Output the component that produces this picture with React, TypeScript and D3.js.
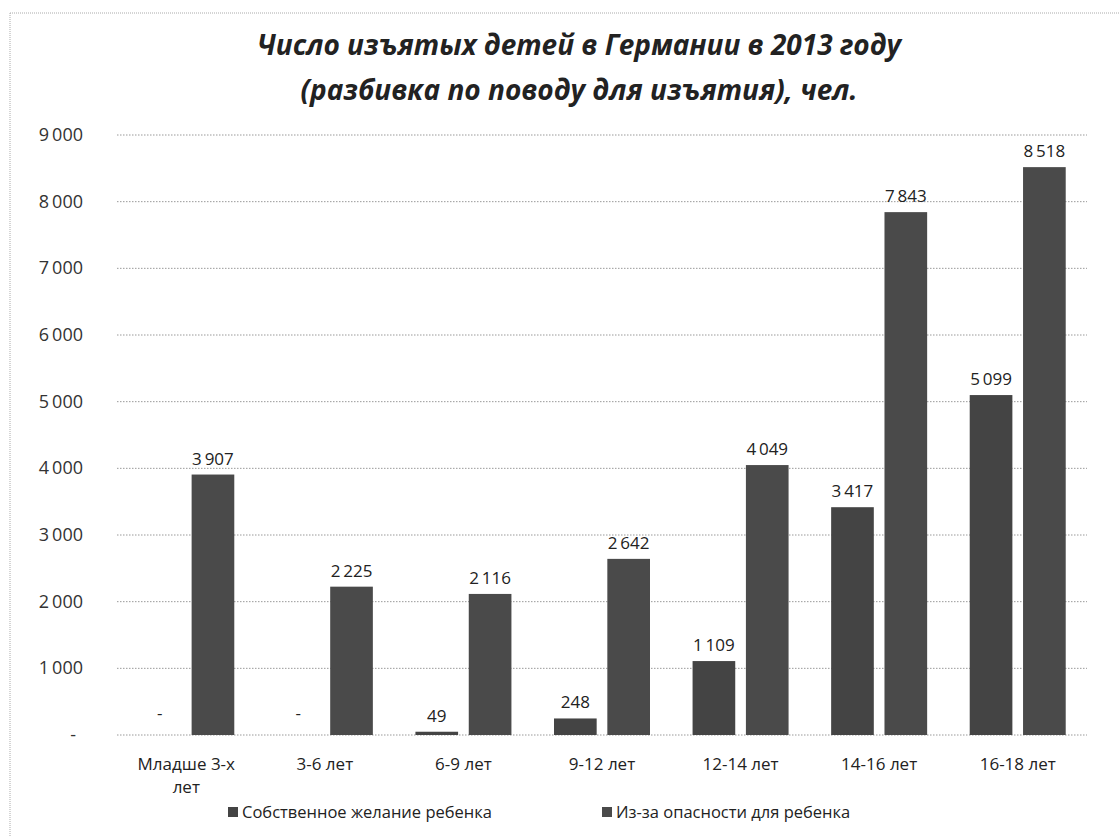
import React from "react";
import * as d3 from "d3";

const categories = ["Младше 3-х лет", "3-6 лет", "6-9 лет", "9-12 лет", "12-14 лет", "14-16 лет", "16-18 лет"];
const seriesNames = ["Собственное желание ребенка", "Из-за опасности для ребенка"];
const ownWish = [0, 0, 49, 248, 1109, 3417, 5099];
const danger = [3907, 2225, 2116, 2642, 4049, 7843, 8518];
const yTicks = [0, 1000, 2000, 3000, 4000, 5000, 6000, 7000, 8000, 9000];
const titleLines = ["Число изъятых детей в Германии в 2013 году", "(разбивка по поводу для изъятия), чел."];

const W = 1120, H = 837;
const plot = { left: 117, right: 1087, top: 135, bottom: 735 };
const colors = ["#444444", "#4a4a4a"];

const fmt = (v: number) => (v === 0 ? "-" : d3.format(",")(v).replace(/,/g, "\u2009"));

export default function App() {
  const x0 = d3.scaleBand().domain(categories).range([plot.left, plot.right]).paddingInner(0).paddingOuter(0);
  const x1 = d3.scaleBand().domain(["0", "1"]).range([-48, 48]).paddingInner(0.2).paddingOuter(0);
  const y = d3.scaleLinear().domain([0, 9000]).range([plot.bottom, plot.top]);
  const series = [ownWish, danger];
  const font = "'Open Sans', 'DejaVu Sans', sans-serif";

  return (
    <svg width={W} height={H} style={{ position: "absolute", left: 0, top: 0, background: "#fff" }} fontFamily={font}>
      <rect x={0} y={0} width={W} height={H} fill="#fff" />
      <line x1={10} y1={13} x2={W} y2={13} stroke="#aaa" strokeDasharray="1 1" />
      <line x1={10} y1={13} x2={10} y2={H} stroke="#aaa" strokeDasharray="1 1" />
      {titleLines.map((t, i) => (
        <text key={i} x={579} y={55 + i * 45} textAnchor="middle" fontSize={28} fontWeight="bold" fontStyle="italic" fill="#222">{t}</text>
      ))}
      {yTicks.map((t) => (
        <g key={t}>
          <line x1={plot.left} x2={plot.right} y1={y(t)} y2={y(t)} stroke="#999" strokeDasharray="1.5 1.5" strokeWidth={1} />
          <text x={t === 0 ? 76 : 83} y={y(t) + 6} textAnchor="end" fontSize={18} fill="#333">{t === 0 ? "-" : fmt(t)}</text>
        </g>
      ))}
      {categories.map((c, ci) => {
        const cx = (x0(c) as number) + x0.bandwidth() / 2;
        const lines = ci === 0 ? ["Младше 3-х", "лет"] : [c];
        return (
          <g key={c}>
            {series.map((s, si) => {
              const bx = cx + (x1(String(si)) as number);
              const bw = x1.bandwidth();
              const v = s[ci];
              return (
                <g key={si}>
                  {v > 0 && <rect x={bx} y={y(v)} width={bw} height={y(0) - y(v)} fill={colors[si]} />}
                  <text x={bx + bw / 2} y={v > 0 ? y(v) - 10 : y(0) - 16} textAnchor="middle" fontSize={17} fill="#222">{fmt(v)}</text>
                </g>
              );
            })}
            {lines.map((l, li) => (
              <text key={li} x={cx} y={770 + li * 23} textAnchor="middle" fontSize={17} fill="#222">{l}</text>
            ))}
          </g>
        );
      })}
      {seriesNames.map((n, i) => {
        const lx = [228, 602][i];
        return (
          <g key={n}>
            <rect x={lx} y={807} width={10} height={10} fill={colors[i]} />
            <text x={lx + 14} y={818} fontSize={16.5} fill="#222">{n}</text>
          </g>
        );
      })}
    </svg>
  );
}
